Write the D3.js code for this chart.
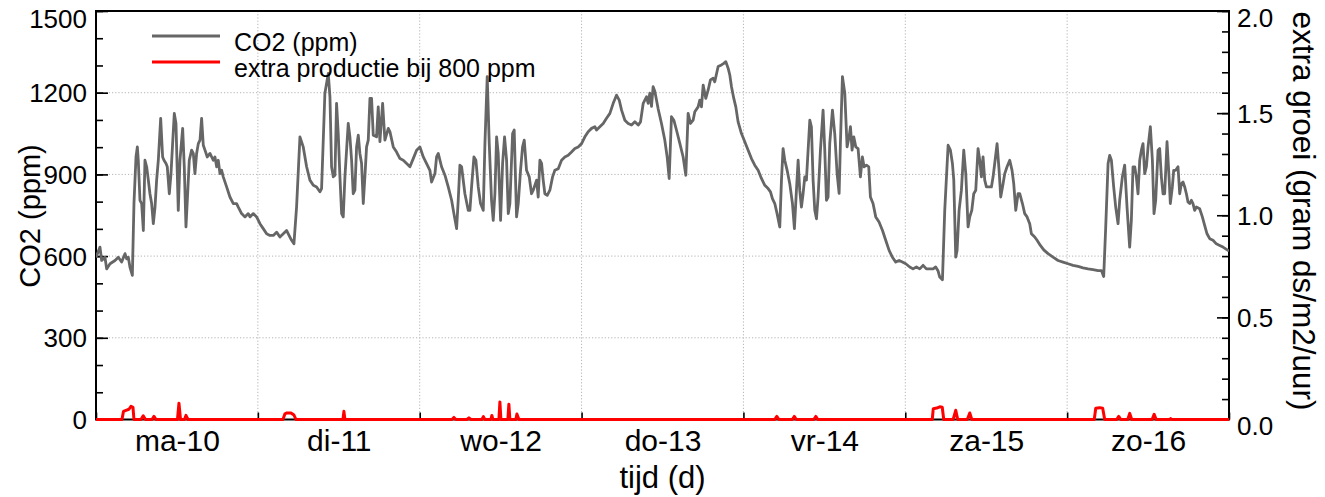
<!DOCTYPE html>
<html>
<head>
<meta charset="utf-8">
<script src="https://cdn.jsdelivr.net/npm/d3@7/dist/d3.min.js"></script>
<style>
  html, body { margin: 0; padding: 0; background: #fff; }
  svg { display: block; }
  text { font-family: "Liberation Sans", Arial, sans-serif; fill: #000; }
</style>
</head>
<body>
<svg id="chart" width="1325" height="497"></svg>
<script>
// Week of greenhouse CO2 readings, [hour since Monday 00:00, ppm]
const co2Ma = [[0,595],[0.59,633],[0.84,584],[1.33,596],[1.58,553],[2.08,572],[2.82,584],[3.31,596],[3.8,578],[4.3,609],[4.55,590],[4.79,596],[5.04,559],[5.39,529],[5.63,793],[5.93,964],[6.13,1001],[6.27,952],[6.52,805],[6.77,793],[7.02,694],[7.26,952],[7.51,928],[7.76,879],[8,829],[8.25,793],[8.5,719],[8.75,780],[8.99,879],[9.24,952],[9.59,1106],[9.88,964],[10.08,952],[10.38,940],[10.57,928],[10.87,829],[11.12,903],[11.36,1013],[11.61,1124],[11.86,1087],[12.2,768],[12.45,952],[12.85,1069],[13.09,928],[13.34,707],[13.59,829],[13.83,952],[14.18,989],[14.43,977],[14.67,903],[14.92,977],[15.17,1013],[15.42,1026],[15.66,1106],[15.91,1007],[16.16,989],[16.5,964],[16.9,977],[17.39,952],[17.64,964],[17.89,928],[18.13,952],[18.38,903],[18.63,915],[18.87,891],[19.37,854],[19.86,817],[20.36,793],[20.85,793],[21.1,780],[21.59,756],[22.09,744],[22.58,756],[22.83,744],[23.32,756],[23.82,744]];
const co2Di = [[24.31,719],[24.8,701],[25.3,682],[25.79,676],[26.29,676],[26.78,688],[27.27,670],[27.77,682],[28.26,694],[28.51,682],[29,658],[29.35,645],[29.74,780],[30.24,1038],[30.73,1001],[31.23,928],[31.72,879],[32.22,860],[32.71,854],[33.2,836],[33.45,848],[33.94,1198],[34.44,1271],[34.69,1185],[34.93,928],[35.18,891],[35.43,897],[35.67,1161],[35.92,1050],[36.17,891],[36.42,756],[36.66,744],[36.91,891],[37.4,1087],[37.65,1038],[37.9,952],[38.14,829],[38.39,842],[38.64,1001],[38.89,1044],[39.13,977],[39.38,940],[39.63,793],[39.87,891],[40.12,1001],[40.37,1026],[40.62,1179],[40.86,1179],[41.11,1044],[41.6,1038],[41.85,1148],[42.1,1020],[42.5,1161],[42.84,1026],[43.34,1069],[43.58,1057],[44.08,1001],[44.57,982],[45.07,958],[45.56,952],[46.06,940],[46.55,928],[47.04,958],[47.54,989]];
const co2Wo = [[48.03,1001],[48.53,964],[49.02,940],[49.51,915],[49.76,872],[50.26,903],[50.5,964],[50.75,977],[51.24,928],[51.74,897],[52.23,854],[52.73,805],[53.07,756],[53.47,701],[53.71,805],[53.96,934],[54.21,928],[54.7,829],[55.2,768],[55.44,768],[55.69,854],[56.04,964],[56.33,952],[56.68,854],[57.02,793],[57.42,768],[57.67,1013],[58.01,1259],[58.31,1013],[58.65,805],[58.9,731],[59.15,829],[59.4,1038],[59.64,977],[59.99,731],[60.29,940],[60.58,1038],[60.88,952],[61.13,756],[61.37,793],[61.77,1050],[62.01,1063],[62.36,744],[62.61,793],[62.95,915],[63.25,1001],[63.5,1026],[63.84,915],[64.24,891],[64.58,829],[64.83,842],[65.33,879],[65.57,817],[65.82,952],[66.07,940],[66.31,879],[66.56,829],[66.91,823],[67.3,842],[67.7,891],[68.04,915],[68.54,921],[69.03,952],[69.52,964],[70.02,970],[70.51,982],[71.01,995],[71.5,1001]];
const co2Do = [[72,1013],[72.49,1038],[72.98,1057],[73.48,1069],[73.97,1075],[74.22,1063],[74.71,1075],[75.21,1087],[75.7,1106],[76.2,1124],[76.69,1161],[77.18,1191],[77.58,1173],[77.93,1136],[78.42,1099],[78.91,1087],[79.41,1081],[79.9,1093],[80.4,1081],[80.74,1093],[81.14,1161],[81.63,1185],[81.88,1161],[82.12,1198],[82.37,1150],[82.61,1222],[82.86,1205],[83.36,1140],[83.85,1087],[84.34,1026],[84.69,964],[84.99,885],[85.33,1112],[85.68,1099],[86.07,1063],[86.57,1014],[87.06,964],[87.46,897],[87.8,1124],[88.15,1087],[88.54,1099],[88.79,1130],[89.28,1148],[89.53,1173],[89.78,1148],[90.03,1228],[90.42,1179],[90.77,1210],[91.11,1247],[91.51,1253],[91.75,1240],[92.25,1296],[92.74,1302],[93.09,1308],[93.39,1314],[93.73,1290],[93.98,1265],[94.23,1222],[94.57,1179],[94.87,1148],[95.21,1093],[95.71,1050]];
const co2Vr = [[96.2,1020],[96.7,989],[97.19,958],[97.68,934],[98.18,915],[98.67,885],[99.17,860],[99.66,848],[100.01,836],[100.3,811],[100.65,793],[100.99,756],[101.39,707],[101.64,879],[101.88,995],[102.13,952],[102.48,915],[102.87,866],[103.27,793],[103.56,701],[103.86,842],[104.11,952],[104.35,842],[104.6,780],[104.85,830],[105.1,891],[105.34,879],[105.84,1099],[106.08,1075],[106.33,879],[106.58,768],[106.83,737],[107.07,817],[107.42,989],[107.81,1136],[108.06,989],[108.31,805],[108.55,817],[108.8,1014],[109.2,1136],[109.54,1050],[109.89,903],[110.19,830],[110.38,1014],[110.68,1259],[111.03,1198],[111.37,1001],[111.67,1038],[111.87,1075],[112.11,989],[112.36,1038],[112.66,1001],[113,995],[113.35,891],[113.64,964],[113.89,928],[114.24,934],[114.58,928],[114.83,817],[115.22,793],[115.62,744],[116.11,725],[116.61,695],[117.1,658],[117.6,621],[118.09,596],[118.59,578],[119.08,584],[119.57,578]];
const co2Za = [[120.07,572],[120.66,560],[121.15,553],[121.65,560],[122.14,553],[122.64,566],[123.13,553],[123.63,553],[124.12,553],[124.51,560],[124.87,545],[125.11,523],[125.51,513],[125.85,768],[126.35,1007],[126.69,989],[126.99,940],[127.19,879],[127.48,596],[127.68,621],[127.98,768],[128.32,842],[128.67,989],[128.97,903],[129.31,707],[129.56,744],[129.86,768],[130.15,829],[130.45,842],[130.79,995],[131.04,952],[131.29,891],[131.53,964],[131.78,879],[132.03,854],[132.42,854],[132.77,854],[133.02,891],[133.26,940],[133.61,1013],[133.91,915],[134.15,817],[134.5,866],[134.75,903],[135.09,928],[135.49,952],[135.83,915],[136.08,866],[136.38,768],[136.72,829],[136.97,829],[137.37,793],[137.71,756],[138.06,744],[138.45,719],[138.7,682],[139.19,670],[139.54,658],[140.03,639],[140.53,623],[141.17,609],[141.91,596],[142.65,584],[143.39,578]];
const co2Zo = [[144.14,572],[144.88,566],[145.62,562],[146.36,557],[147.1,553],[147.84,550],[148.58,547],[149.08,547],[149.42,525],[149.72,707],[150.07,940],[150.31,970],[150.56,952],[150.9,854],[151.2,780],[151.55,719],[151.79,805],[152.19,891],[152.53,934],[152.88,780],[153.27,633],[153.52,731],[153.77,928],[154.02,928],[154.26,891],[154.51,829],[154.76,952],[155.01,989],[155.25,1013],[155.5,903],[155.75,928],[156,1001],[156.34,1075],[156.64,952],[156.88,756],[157.13,805],[157.48,989],[157.72,995],[157.97,891],[158.22,829],[158.46,829],[158.81,1020],[159.11,891],[159.3,793],[159.6,854],[159.8,915],[160.09,915],[160.44,928],[160.69,829],[160.93,866],[161.18,872],[161.43,854],[161.68,829],[161.92,799],[162.17,793],[162.42,805],[162.66,793],[162.91,768],[163.16,780],[163.65,774],[164.05,744],[164.39,713],[164.74,682],[165.14,664],[165.63,658],[166.12,645],[166.62,639],[167.11,633],[167.85,621],[168,620]];

// Extra growth at 800 ppm, [hour, gram ds/m2/uur]
const extraGrowth = [[0,0],[3.85,0],[4.08,0.04],[4.45,0.045],[4.89,0.05],[5.19,0.065],[5.48,0.06],[5.63,0],[6.67,0],[7.0,0.018],[7.34,0],[8.3,0],[8.6,0.015],[8.9,0],[12.08,0],[12.3,0.08],[12.53,0],[13.12,0],[13.34,0.02],[13.64,0],[27.72,0],[28.02,0.028],[28.31,0.032],[28.91,0.032],[29.35,0.022],[29.65,0],[36.62,0],[36.76,0.04],[36.91,0],[52.77,0],[53.07,0.01],[53.37,0],[55.0,0],[55.3,0.008],[55.6,0],[57.22,0],[57.44,0.014],[57.67,0],[58.55,0],[58.7,0.02],[58.85,0],[59.74,0],[59.89,0.086],[60.04,0],[61.07,0],[61.22,0.075],[61.37,0],[62.26,0],[62.41,0.027],[62.71,0],[100.65,0],[100.95,0.015],[101.25,0],[103.25,0],[103.54,0.015],[103.84,0],[106.44,0],[106.73,0.015],[107.03,0],[124.0,0],[124.15,0.053],[124.67,0.056],[125.11,0.062],[125.48,0.06],[125.7,0],[127.1,0],[127.48,0.045],[127.78,0],[129.2,0],[129.56,0.032],[129.86,0],[148.02,0],[148.24,0.055],[148.83,0.058],[149.27,0.055],[149.57,0],[151.35,0],[151.65,0.015],[151.95,0],[152.99,0],[153.28,0.03],[153.58,0],[156.6,0],[156.9,0.025],[157.2,0],[159.2,0],[159.35,0.005],[159.5,0],[168,0]];

const dayLabels = ["ma-10", "di-11", "wo-12", "do-13", "vr-14", "za-15", "zo-16"];
const co2Ticks = [0, 300, 600, 900, 1200, 1500];
const growthTicks = [0, 0.5, 1.0, 1.5, 2.0];
const legendLabels = ["CO2 (ppm)", "extra productie bij 800 ppm"];

const co2Series = [co2Ma, co2Di, co2Wo, co2Do, co2Vr, co2Za, co2Zo].flat();

const svg = d3.select("#chart");
const plotL = 96, plotR = 1229, plotT = 11, plotB = 419.5;
const grey = "#666666", red = "#ff0000";

const x = d3.scaleLinear().domain([0, 168]).range([plotL, plotR]);
const yL = d3.scaleLinear().domain([0, 1500]).range([plotB, plotT]);
const yR = d3.scaleLinear().domain([0, 2]).range([plotB, plotT]);

// dotted grid
const grid = svg.append("g").attr("stroke", "#b4b4b4").attr("stroke-width", 1).attr("stroke-dasharray", "1.2,2");
grid.selectAll("line.h").data([300, 600, 900, 1200]).join("line").attr("class", "h")
  .attr("x1", plotL).attr("x2", plotR).attr("y1", d => yL(d)).attr("y2", d => yL(d));
grid.selectAll("line.v").data(d3.range(24, 168, 24)).join("line").attr("class", "v")
  .attr("y1", plotT).attr("y2", plotB).attr("x1", d => x(d)).attr("x2", d => x(d));

// axes with inward ticks
const axisStyle = g => { g.select(".domain").remove(); g.selectAll(".tick line").attr("stroke", "#000").attr("stroke-width", 1.6); };

svg.append("g").attr("transform", `translate(${plotL},0)`)
  .call(d3.axisLeft(yL).tickValues(d3.range(0, 1501, 100)).tickSize(-7).tickFormat(""))
  .call(axisStyle);
svg.append("g").attr("transform", `translate(${plotL},0)`)
  .call(d3.axisLeft(yL).tickValues(co2Ticks).tickSize(-12).tickPadding(9).tickFormat(d3.format("d")))
  .call(axisStyle)
  .call(g => g.selectAll("text").attr("font-size", 26).attr("dy", "0.35em")
    .attr("transform", d => d === 1500 ? "translate(0,7)" : null));

svg.append("g").attr("transform", `translate(${plotR},0)`)
  .call(d3.axisRight(yR).tickValues(d3.range(0, 21).map(i => i / 10)).tickSize(-7).tickFormat(""))
  .call(axisStyle);
svg.append("g").attr("transform", `translate(${plotR},0)`)
  .call(d3.axisRight(yR).tickValues(growthTicks).tickSize(-12).tickPadding(8).tickFormat(d3.format(".1f")))
  .call(axisStyle)
  .call(g => g.selectAll("text").attr("font-size", 26).attr("dy", "0.35em")
    .attr("transform", d => (d === 2 || d === 0) ? "translate(0,6)" : null));

svg.append("g").attr("transform", `translate(0,${plotB})`)
  .call(d3.axisBottom(x).tickValues(d3.range(0, 169, 24)).tickSize(-7).tickFormat(""))
  .call(axisStyle);
svg.append("g").attr("transform", `translate(0,${plotB})`)
  .call(d3.axisBottom(x).tickValues(dayLabels.map((_, i) => i * 24 + 12)).tickSize(0).tickPadding(10)
    .tickFormat((d, i) => dayLabels[i]))
  .call(axisStyle)
  .call(g => g.selectAll("text").attr("font-size", 30));

// plot frame
svg.append("rect").attr("x", plotL).attr("y", plotT).attr("width", plotR - plotL).attr("height", plotB - plotT)
  .attr("fill", "none").attr("stroke", "#000").attr("stroke-width", 2);

// series
svg.append("clipPath").attr("id", "plotClip").append("rect")
  .attr("x", plotL).attr("y", plotT).attr("width", plotR - plotL).attr("height", plotB - plotT);

svg.append("path").datum(co2Series)
  .attr("clip-path", "url(#plotClip)")
  .attr("fill", "none").attr("stroke", grey).attr("stroke-width", 2.8).attr("stroke-linejoin", "round")
  .attr("d", d3.line().x(d => x(d[0])).y(d => yL(d[1])));

svg.append("path").datum(extraGrowth)
  .attr("fill", "none").attr("stroke", red).attr("stroke-width", 3).attr("stroke-linejoin", "round")
  .attr("d", d3.line().x(d => x(d[0])).y(d => yR(d[1])));

// axis titles
svg.append("text").attr("transform", `translate(40,216) rotate(-90)`)
  .attr("text-anchor", "middle").attr("font-size", 29).text("CO2 (ppm)");
svg.append("text").attr("transform", `translate(1293,211) rotate(90)`)
  .attr("text-anchor", "middle").attr("font-size", 31.5).text("extra groei (gram ds/m2/uur)");
svg.append("text").attr("x", (plotL + plotR) / 2).attr("y", 488)
  .attr("text-anchor", "middle").attr("font-size", 31).text("tijd (d)");

// legend
const legend = svg.append("g");
[grey, red].forEach((c, i) => {
  const ly = 36 + i * 26;
  legend.append("line").attr("x1", 152).attr("x2", 220).attr("y1", ly).attr("y2", ly)
    .attr("stroke", c).attr("stroke-width", 3);
  legend.append("text").attr("x", 234).attr("y", ly + 15).attr("font-size", 25).text(legendLabels[i]);
});
</script>
</body>
</html>
